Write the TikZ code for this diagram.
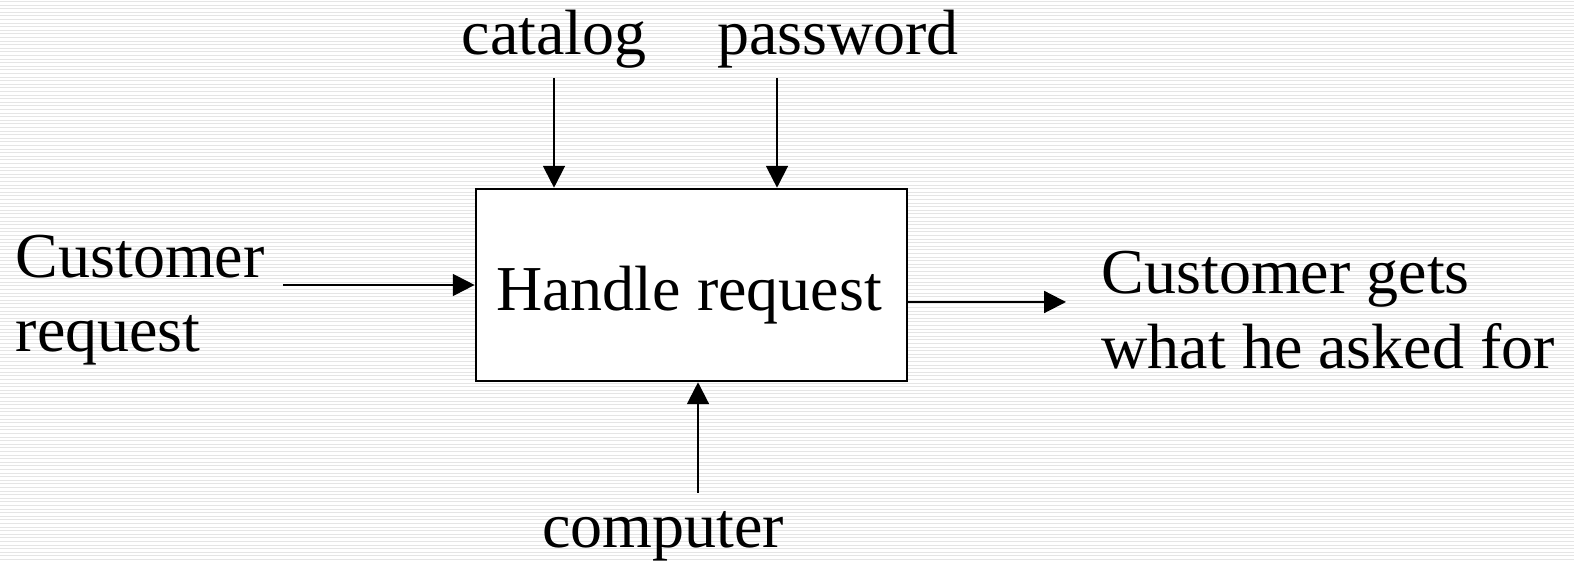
\documentclass[tikz,border=0pt]{standalone}
\usepackage{fontspec}
\setmainfont{Liberation Serif}
\usetikzlibrary{arrows.meta}
\begin{document}
\begin{tikzpicture}[x=0.01cm,y=-0.01cm,
  lbl/.style={font=\fontsize{18.2}{21}\selectfont, inner sep=0pt},
  arr/.style={line width=0.6pt, -{Triangle[length=6.2pt,width=6.2pt]}},
  procbox/.style={draw, line width=0.7pt, fill=white, minimum width=4.31cm, minimum height=1.92cm, inner sep=0pt}]
\useasboundingbox (0,0) rectangle (1574,562);
\fill[white] (0,0) rectangle (1574,562);
\foreach \i in {0,...,156} {
  \draw[black!10, line width=0.3pt] (0,{1.5+3.6*\i}) -- (1574,{1.5+3.6*\i});
}
\node[procbox] (box) at (691.5,285) {};
\node[lbl, anchor=base] (hr) at (689,311) {Handle request};
\node[lbl, anchor=base] (cat) at (554,55) {catalog};
\node[lbl, anchor=base] (pw) at (838,55) {password};
\node[lbl, anchor=base] (comp) at (663,548) {computer};
\node[lbl, anchor=base west] (cr1) at (15,278) {Customer};
\node[lbl, anchor=base west] (cr2) at (15,352) {request};
\node[lbl, anchor=base west] (out1) at (1101,294) {Customer gets};
\node[lbl, anchor=base west] (out2) at (1101,369) {what he asked for};
\coordinate (c1) at (554,78);
\coordinate (c2) at (777,78);
\coordinate (c3) at (698,493);
\coordinate (c4) at (283,285);
\coordinate (c5) at (1066,302);
\draw[arr] (c1) -- (box.north -| c1);
\draw[arr] (c2) -- (box.north -| c2);
\draw[arr] (c3) -- (box.south -| c3);
\draw[arr] (c4) -- (box.west |- c4);
\draw[arr] (box.east |- c5) -- (c5);
\end{tikzpicture}
\end{document}
